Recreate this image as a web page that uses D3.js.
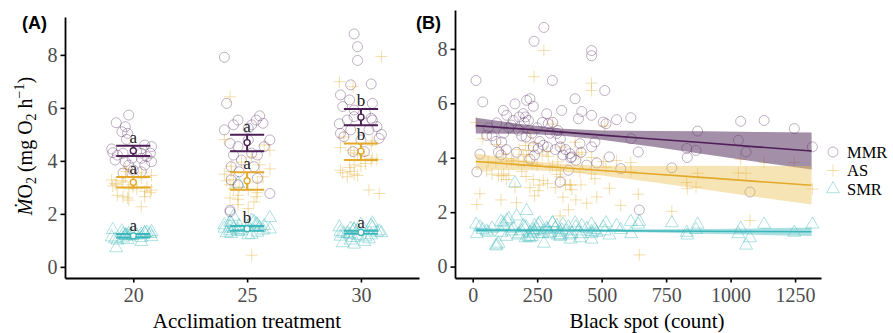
<!DOCTYPE html>
<html>
<head>
<meta charset="utf-8">
<script src="https://cdn.jsdelivr.net/npm/d3@7"></script>
<style>
  body { margin: 0; background: #fff; }
  svg { display: block; }
</style>
</head>
<body>
<div id="chart"></div>
<script>
// ---------- data ----------
const treatments = ['20', '25', '30'];
const series = ['MMR', 'AS', 'SMR'];

// panel A: raw points per treatment, jitter offsets in category units
const jit20 = [-0.15,-0.04,-0.07,-0.10,-0.05,-0.06,0.10,0.16,-0.18,-0.14,-0.09,0.03,0.07,0.15,-0.01,0.07,0.16,-0.16,-0.07,0.10,-0.04,0.00,0.07,-0.09,0.12,-0.19];
const mmr20 = [5.44,5.73,5.29,5.10,5.04,4.81,4.60,4.54,4.31,4.22,4.29,4.35,4.29,4.29,4.10,4.10,3.97,4.03,3.97,3.84,3.84,3.65,3.59,3.54,4.16,4.45];
const as20  = [3.28,3.02,2.65,2.27,3.02,2.52,2.65,3.40,3.15,2.90,3.55,3.10,2.80,3.35,2.95,3.20,2.70,3.05,3.45,2.85,3.60,2.60,3.25,3.70,2.95,3.10];
const smr20 = [1.25,1.18,1.10,1.32,1.05,1.20,1.28,1.15,1.38,1.22,1.08,1.30,1.12,0.71,1.25,1.17,1.35,1.02,1.20,1.27,1.13,1.40,1.00,1.23,1.19,0.95];

const jit25 = [-0.20,-0.18,-0.08,0.11,0.08,0.14,-0.12,0.04,0.01,0.20,-0.15,-0.08,0.15,-0.12,0.09,-0.05,0.06,-0.14,-0.07,-0.08,0.20,0.09,-0.15,-0.14,0.01,-0.20,0.04,-0.15];
const mmr25 = [7.91,6.17,5.54,5.70,5.54,5.42,5.36,5.36,5.23,4.79,4.66,4.54,4.54,4.22,4.22,4.03,3.78,3.78,3.59,3.09,2.77,3.34,2.14,3.28,4.79,5.17,4.29,2.08];
const as25  = [6.42,0.44,3.50,2.90,3.80,2.60,3.20,4.40,2.70,3.00,3.60,2.45,3.95,2.80,3.30,4.60,2.55,3.10,3.70,2.20,4.15,2.95,3.40,2.65,3.85,2.35,3.25,4.80];
const smr25 = [1.45,1.60,1.35,1.70,1.25,1.55,1.40,1.85,1.30,1.50,1.65,1.20,1.45,1.75,1.35,1.58,1.28,3.15,1.48,1.62,1.38,1.90,1.22,1.52,1.42,1.68,1.33,1.55];

const jit30 = [-0.06,-0.03,-0.03,0.09,-0.09,-0.18,-0.10,0.10,-0.16,-0.06,0.04,0.10,-0.12,0.14,-0.18,-0.09,0.07,0.16,-0.15,0.00,0.03,-0.06,0.09,-0.07,-0.19,0.18];
const mmr30 = [8.79,8.31,7.79,6.90,6.87,6.49,6.30,6.17,6.05,5.92,5.80,5.54,5.54,5.29,5.04,5.17,5.17,4.85,4.91,4.79,4.35,5.67,5.61,4.35,5.40,5.00];
const as30  = [7.94,6.99,6.80,4.60,3.50,4.20,3.80,4.90,2.77,2.90,4.40,3.65,4.05,3.40,4.75,3.90,4.30,3.55,4.10,3.75,4.50,3.60,4.00,3.45,4.25,3.85];
const smr30 = [1.30,1.15,1.45,1.05,1.35,1.25,1.60,0.95,1.40,1.20,1.10,1.50,1.28,0.85,1.38,1.18,1.55,1.00,1.32,1.22,1.65,0.90,1.42,1.12,1.48,1.27];

// panel A: means with confidence limits and group letters (per treatment)
const mmrMean = [4.38, 4.69, 5.65], mmrLo = [4.18, 4.36, 5.34], mmrHi = [4.57, 4.99, 5.96];
const asMean  = [3.19, 3.25, 4.37], asLo  = [3.00, 2.91, 4.03], asHi  = [3.39, 3.57, 4.66];
const smrMean = [1.17, 1.44, 1.30], smrLo = [1.11, 1.36, 1.25], smrHi = [1.24, 1.54, 1.36];
const mmrLetters = ['a', 'a', 'b'];
const asLetters  = ['a', 'a', 'b'];
const smrLetters = ['a', 'b', 'a'];

// panel B: per fish black spot count and metabolic rates
const spots = [13,39,16,28,54,93,119,112,132,164,157,177,196,209,222,235,216,207,235,254,222,274,287,276,238,309,293,326,345,339,339,371,377,397,410,416,423,384,442,461,461,461,461,474,481,506,512,517,530,558,574,613,614,642,646,772,830,832,872,866,1039,1030,1060,1075,1130,1247,1317,100,120,140,150,180,200,230,250,260,300,320,330,350,360,380,400,420,90,75,60,110,130,170,190,205,240,270,290,310,340];
const mmrB = [6.84,6.05,3.48,4.13,4.82,5.28,5.74,4.58,5.56,5.98,5.37,5.01,5.62,6.11,6.17,5.89,5.37,4.76,4.40,4.34,3.95,4.46,5.62,8.79,8.28,6.84,5.25,4.89,5.74,4.40,3.11,3.54,4.15,6.17,5.43,4.52,5.70,4.03,3.73,7.94,7.75,5.56,4.40,4.58,3.81,5.31,6.47,5.25,4.03,5.40,3.60,5.47,4.70,4.21,2.08,3.63,4.34,4.01,4.98,4.27,5.34,4.64,4.21,2.74,5.37,5.07,4.40,4.2,4.9,5.1,5.2,5.5,5.3,4.9,5.1,4.6,4.9,4.3,5.0,4.1,4.3,4.0,3.9,4.2,4.6,4.8,5.1,4.1,4.3,4.2,4.8,5.5,4.1,5.3,4.4,5.3,4.7];
const smrB = [1.55,1.35,1.20,1.45,1.30,0.79,1.60,1.25,1.70,3.07,1.40,1.15,1.50,2.05,1.25,1.35,1.10,1.45,1.20,1.55,1.05,1.30,1.40,0.85,1.30,1.60,1.20,1.50,1.35,1.10,1.25,1.45,1.15,1.60,1.30,1.05,1.50,1.20,1.40,1.20,1.28,1.55,1.00,1.35,1.25,1.45,1.30,1.60,1.15,1.50,1.35,1.65,1.20,1.55,1.65,1.60,1.25,1.15,1.55,1.35,1.40,1.20,0.78,1.05,1.55,1.25,1.55,0.85,1.50,1.75,1.30,1.20,1.45,1.10,1.35,1.60,1.25,1.40,1.15,1.55,1.30,1.00,1.45,1.20,0.75,1.40,1.25,1.65,1.10,1.85,1.30,1.05,1.50,1.20,1.35,1.60,1.15];
const asB  = [5.29,4.70,2.28,2.68,3.52,4.49,4.14,3.33,3.86,2.91,3.97,3.86,4.12,4.06,4.92,4.54,4.27,3.31,3.20,2.79,2.90,3.16,4.22,7.94,6.98,5.24,4.05,3.39,4.39,3.30,1.86,2.09,3.00,4.57,4.13,3.47,4.20,2.83,2.33,6.74,6.47,4.01,3.40,3.23,2.56,3.86,5.17,3.65,2.88,3.90,2.25,3.82,3.50,2.66,0.43,2.03,3.09,2.86,3.43,2.92,3.94,3.44,3.43,1.69,3.82,3.82,2.85,3.35,3.40,3.35,3.90,4.30,3.85,3.80,3.75,3.00,3.65,2.90,3.85,2.55,3.00,3.00,2.45,3.00,3.85,3.40,3.85,2.45,3.20,2.35,3.50,4.45,2.60,4.10,3.05,3.70,3.55];

// panel B: fitted lines with confidence bands
const fitX   = [12, 200, 350, 500, 700, 900, 1100, 1314];
const mmrFit = [5.18, 5.05, 4.94, 4.83, 4.69, 4.55, 4.40, 4.25];
const mmrFitLo = [4.89, 4.88, 4.81, 4.66, 4.40, 4.13, 3.85, 3.57];
const mmrFitHi = [5.47, 5.22, 5.07, 5.00, 4.98, 4.97, 4.95, 4.93];
const asFit  = [3.86, 3.73, 3.63, 3.53, 3.40, 3.27, 3.13, 2.99];
const asFitLo = [3.56, 3.55, 3.49, 3.35, 3.10, 2.83, 2.56, 2.28];
const asFitHi = [4.16, 3.91, 3.77, 3.71, 3.70, 3.71, 3.70, 3.70];
const smrFit = [1.34, 1.33, 1.33, 1.32, 1.31, 1.30, 1.29, 1.28];
const smrFitLo = [1.26, 1.28, 1.29, 1.28, 1.25, 1.21, 1.17, 1.12];
const smrFitHi = [1.42, 1.39, 1.37, 1.37, 1.37, 1.38, 1.40, 1.44];

const yTicks = [0, 2, 4, 6, 8];
const xTicksB = [0, 250, 500, 750, 1000, 1250];

// ---------- setup ----------
const W = 893, H = 333;
const serif = '"Liberation Serif", "Times New Roman", serif';
const sans = '"Liberation Sans", Arial, sans-serif';
const col = { MMR: '#4d1f56', AS: '#e2a92a', SMR: '#3db7bb' };
const band = { MMR: '#5a3363', AS: '#eabb45', SMR: '#3db7bb' };

const svg = d3.select('#chart').append('svg')
  .attr('width', W).attr('height', H);

const crossPath = 'M-6,0H6M0,-6V6';
const triPath = d3.symbol(d3.symbolTriangle, 72)();

function drawMarker(g, type, x, y) {
  if (type === 'MMR') {
    g.append('circle').attr('cx', x).attr('cy', y).attr('r', 5)
      .attr('fill', 'none').attr('stroke', col.MMR).attr('stroke-opacity', 0.35).attr('stroke-width', 1);
  } else if (type === 'AS') {
    g.append('path').attr('d', crossPath).attr('transform', `translate(${x},${y})`)
      .attr('fill', 'none').attr('stroke', col.AS).attr('stroke-opacity', 0.38).attr('stroke-width', 1);
  } else {
    g.append('path').attr('d', triPath).attr('transform', `translate(${x},${y})`)
      .attr('fill', 'none').attr('stroke', col.SMR).attr('stroke-opacity', 0.42).attr('stroke-width', 1);
  }
}

function styleAxis(g) {
  g.selectAll('.domain').attr('stroke', '#000').attr('stroke-width', 1.8);
  g.selectAll('.tick line').attr('stroke', '#000').attr('stroke-width', 1.6);
  g.selectAll('.tick text').attr('fill', '#4d4d4d')
    .style('font-family', serif).style('font-size', '20px');
}

// ---------- panel A ----------
const xA = d3.scaleLinear().domain([-0.6, 2.51]).range([65, 419]);
const yA = d3.scaleLinear().domain([-0.42, 9.43]).range([278, 17]);

const pA = svg.append('g');
const rawA = [
  { jit: jit20, MMR: mmr20, AS: as20, SMR: smr20 },
  { jit: jit25, MMR: mmr25, AS: as25, SMR: smr25 },
  { jit: jit30, MMR: mmr30, AS: as30, SMR: smr30 }
];

['SMR', 'AS', 'MMR'].forEach(s => {
  rawA.forEach((grp, gi) => {
    const n = grp.jit.length;
    grp[s].forEach((v, i) => {
      // each series uses its own ordering of the jitter offsets
      const j = s === 'MMR' ? grp.jit[i] : s === 'AS' ? grp.jit[n - 1 - i] : grp.jit[(i + 13) % n];
      drawMarker(pA, s, xA(gi + j), yA(v));
    });
  });
});

const summary = {
  MMR: { mean: mmrMean, lo: mmrLo, hi: mmrHi, letters: mmrLetters },
  AS:  { mean: asMean,  lo: asLo,  hi: asHi,  letters: asLetters },
  SMR: { mean: smrMean, lo: smrLo, hi: smrHi, letters: smrLetters }
};

series.forEach(s => {
  const d = summary[s];
  treatments.forEach((t, i) => {
    const cx = xA(i);
    const g = pA.append('g').attr('stroke', col[s]).attr('stroke-width', 2);
    g.append('line').attr('x1', cx).attr('x2', cx).attr('y1', yA(d.lo[i])).attr('y2', yA(d.hi[i]));
    [d.lo[i], d.hi[i]].forEach(v => {
      g.append('line').attr('x1', xA(i - 0.15)).attr('x2', xA(i + 0.15))
        .attr('y1', yA(v)).attr('y2', yA(v));
    });
    g.append('circle').attr('cx', cx).attr('cy', yA(d.mean[i])).attr('r', 3)
      .attr('fill', '#fff').attr('stroke-width', 1.4);
    pA.append('text').attr('x', cx).attr('y', yA(d.hi[i]) - 3)
      .attr('text-anchor', 'middle').style('font-family', serif).style('font-size', '17px')
      .attr('fill', '#222').text(d.letters[i]);
  });
});

const axAy = svg.append('g').attr('transform', 'translate(65,0)')
  .call(d3.axisLeft(yA).tickValues(yTicks).tickSize(4.5).tickPadding(3).tickSizeOuter(0));
styleAxis(axAy);
const axAx = svg.append('g').attr('transform', 'translate(0,278)')
  .call(d3.axisBottom(xA).tickValues([0, 1, 2]).tickFormat(i => treatments[i])
    .tickSize(4.5).tickPadding(5).tickSizeOuter(0));
styleAxis(axAx);

svg.append('text').attr('x', 247).attr('y', 328).attr('text-anchor', 'middle')
  .style('font-family', serif).style('font-size', '21px').text('Acclimation treatment');

const yt = svg.append('text').attr('transform', 'translate(32,146) rotate(-90)')
  .attr('text-anchor', 'middle').style('font-family', serif).style('font-size', '20px');
yt.append('tspan').style('font-style', 'italic').text('M\u0307');
yt.append('tspan').text('O');
yt.append('tspan').attr('dy', 4).style('font-size', '14px').text('2');
yt.append('tspan').attr('dy', -4).text(' (mg O');
yt.append('tspan').attr('dy', 4).style('font-size', '14px').text('2');
yt.append('tspan').attr('dy', -4).text(' h');
yt.append('tspan').attr('dy', -8).style('font-size', '14px').text('\u22121');
yt.append('tspan').attr('dy', 8).text(')');

svg.append('text').attr('x', 22).attr('y', 29)
  .style('font-family', sans).style('font-weight', 'bold').style('font-size', '18px').text('(A)');

// ---------- panel B ----------
const xB = d3.scaleLinear().domain([-68.6, 1350.5]).range([455, 821]);
const yB = d3.scaleLinear().domain([-0.42, 9.43]).range([278, 10]);
const pB = svg.append('g');

const rawB = { MMR: mmrB, AS: asB, SMR: smrB };
['SMR', 'AS', 'MMR'].forEach(s => {
  rawB[s].forEach((v, i) => drawMarker(pB, s, xB(spots[i]), yB(v)));
});

const fits = {
  MMR: { fit: mmrFit, lo: mmrFitLo, hi: mmrFitHi, op: 0.55 },
  AS:  { fit: asFit,  lo: asFitLo,  hi: asFitHi,  op: 0.4 },
  SMR: { fit: smrFit, lo: smrFitLo, hi: smrFitHi, op: 0.45 }
};
const area = d3.area().x((d, i) => xB(fitX[i])).y0(d => yB(d[0])).y1(d => yB(d[1]));
const line = d3.line().x((d, i) => xB(fitX[i])).y(d => yB(d));
series.forEach(s => {
  const f = fits[s];
  pB.append('path').datum(f.lo.map((v, i) => [v, f.hi[i]]))
    .attr('d', area).attr('fill', band[s]).attr('fill-opacity', f.op);
});
series.forEach(s => {
  pB.append('path').datum(fits[s].fit).attr('d', line)
    .attr('fill', 'none').attr('stroke', col[s]).attr('stroke-width', 1.6);
});

const axBy = svg.append('g').attr('transform', 'translate(455,0)')
  .call(d3.axisLeft(yB).tickValues(yTicks).tickSize(4.5).tickPadding(3).tickSizeOuter(0));
styleAxis(axBy);
const axBx = svg.append('g').attr('transform', 'translate(0,278)')
  .call(d3.axisBottom(xB).tickValues(xTicksB).tickFormat(d3.format('d'))
    .tickSize(4.5).tickPadding(5).tickSizeOuter(0));
styleAxis(axBx);

svg.append('text').attr('x', 647).attr('y', 328).attr('text-anchor', 'middle')
  .style('font-family', serif).style('font-size', '21px').text('Black spot (count)');

svg.append('text').attr('x', 416).attr('y', 29)
  .style('font-family', sans).style('font-weight', 'bold').style('font-size', '18px').text('(B)');

// legend
const leg = svg.append('g');
series.forEach((s, i) => {
  const y = 152 + i * 18.5;
  drawMarker(leg, s, 833, y);
  leg.append('text').attr('x', 847).attr('y', y + 5.5)
    .style('font-family', serif).style('font-size', '16.5px').attr('fill', '#000').text(s);
});
</script>
</body>
</html>
